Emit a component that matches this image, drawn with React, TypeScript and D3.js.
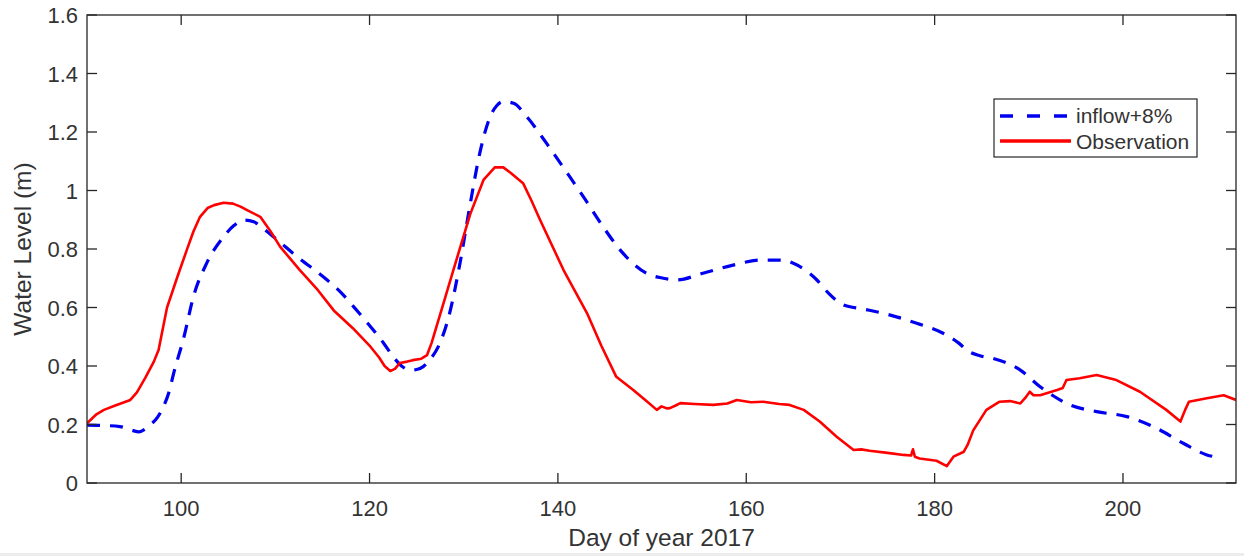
import React from "react";
import * as d3 from "d3";

// Observation (red, solid)
const obsDay = [90, 91, 91.8, 93, 94.6, 95.3, 96.2, 97.1, 97.6, 98.0, 98.5, 99.6, 100.6, 101.3, 102.0, 102.8, 103.5, 104.5, 105.5, 106.3, 107.0, 108.4, 109.5, 110.5, 112.6, 114.5, 116.2, 118.2, 120.1, 121.0, 121.6, 122.2, 122.7, 123.2, 124.0, 124.6, 125.5, 126.1, 126.6, 127.1, 128.0, 128.9, 130.7, 132.1, 133.3, 134.2, 135.0, 136.3, 137.2, 138.1, 140.6, 143.1, 144.6, 146.2, 148.0, 149.4, 150.5, 151.0, 151.6, 151.9, 152.5, 153.0, 154.5, 156.5, 158.0, 159.0, 160.5, 161.8, 163.5, 164.6, 166.1, 167.8, 169.6, 171.4, 172.2, 173.1, 175.0, 176.7, 177.5, 177.7, 177.9, 178.4, 180.2, 181.3, 182.0, 183.1, 183.5, 184.1, 185.5, 186.9, 188.0, 189.1, 189.6, 190.1, 190.5, 191.2, 193.0, 193.6, 194.0, 195.4, 197.2, 199.3, 201.8, 204.6, 206.1, 206.6, 207.0, 208.9, 210.7, 212];
const obsLevel = [0.204, 0.235, 0.25, 0.265, 0.284, 0.31, 0.36, 0.415, 0.455, 0.52, 0.6, 0.705, 0.797, 0.86, 0.91, 0.94, 0.95, 0.958, 0.955, 0.945, 0.933, 0.91, 0.86, 0.808, 0.728, 0.66, 0.59, 0.53, 0.466, 0.43, 0.4, 0.383, 0.39, 0.41, 0.415, 0.42, 0.425, 0.437, 0.48, 0.534, 0.63, 0.728, 0.92, 1.036, 1.079, 1.079, 1.06, 1.025, 0.965, 0.9, 0.728, 0.58, 0.47, 0.363, 0.318, 0.28, 0.25, 0.262, 0.255, 0.256, 0.265, 0.273, 0.27, 0.267, 0.272, 0.284, 0.276, 0.278, 0.27, 0.267, 0.25, 0.21, 0.158, 0.113, 0.115, 0.11, 0.103, 0.096, 0.094, 0.115, 0.09, 0.084, 0.076, 0.058, 0.09, 0.107, 0.13, 0.18, 0.25, 0.278, 0.28, 0.272, 0.29, 0.312, 0.3, 0.3, 0.318, 0.325, 0.352, 0.358, 0.369, 0.352, 0.312, 0.25, 0.21, 0.25, 0.278, 0.29, 0.3, 0.284];

// inflow+8% (blue, dashed)
const simDay = [90, 91.5, 93.5, 94.8, 95.5, 96.2, 96.7, 97.5, 98.1, 98.7, 99.2, 100.3, 101.3, 102.7, 104.5, 105.6, 106.6, 107.7, 108.7, 109.8, 112.3, 115.5, 117.0, 118.3, 120.4, 121.5, 122.5, 123.4, 124.3, 125.0, 125.7, 126.5, 127.3, 128.5, 129.6, 130.7, 131.7, 132.8, 133.5, 134.2, 135.3, 136.7, 138.8, 141.0, 142.7, 144.8, 146.6, 148.0, 149.4, 151.2, 152.6, 155.4, 158.6, 161.5, 163.9, 165.0, 167.5, 168.7, 170.3, 172.4, 175.3, 178.1, 180.9, 182.5, 183.6, 184.8, 186.2, 189.1, 191.2, 192.5, 194.0, 197.2, 200.4, 203.2, 206.4, 208.9, 210.0];
const simLevel = [0.198, 0.197, 0.193, 0.18, 0.175, 0.185, 0.198, 0.225, 0.26, 0.31, 0.375, 0.5, 0.637, 0.751, 0.842, 0.88, 0.899, 0.893, 0.87, 0.842, 0.774, 0.694, 0.65, 0.603, 0.523, 0.478, 0.432, 0.4, 0.386, 0.388, 0.398, 0.425, 0.466, 0.58, 0.751, 0.956, 1.127, 1.252, 1.29, 1.304, 1.298, 1.252, 1.161, 1.059, 0.979, 0.876, 0.797, 0.75, 0.717, 0.7, 0.694, 0.717, 0.745, 0.762, 0.762, 0.751, 0.694, 0.65, 0.609, 0.595, 0.574, 0.546, 0.512, 0.48, 0.45, 0.435, 0.426, 0.386, 0.329, 0.3, 0.272, 0.244, 0.227, 0.193, 0.136, 0.096, 0.088];

const xTicks = [100, 120, 140, 160, 180, 200];
const yTicks = [0, 0.2, 0.4, 0.6, 0.8, 1, 1.2, 1.4, 1.6];
const xTickLabels = ["100", "120", "140", "160", "180", "200"];
const yTickLabels = ["0", "0.2", "0.4", "0.6", "0.8", "1", "1.2", "1.4", "1.6"];
const seriesNames = ["inflow+8%", "Observation"];

const W = 1244;
const H = 556;
const M = { left: 87, right: 1236, top: 15, bottom: 483 };
const FONT = "'Liberation Sans', Arial, Helvetica, sans-serif";
const TXT = "#333333";
const AX = "#262626";

export default function App() {
  const x = d3.scaleLinear().domain([90, 212]).range([M.left, M.right]);
  const y = d3.scaleLinear().domain([0, 1.6]).range([M.bottom, M.top]);

  const obs = obsDay.map((d, i) => [d, obsLevel[i]] as [number, number]);
  const sim = simDay.map((d, i) => [d, simLevel[i]] as [number, number]);

  const obsLine = d3
    .line<[number, number]>()
    .x((d) => x(d[0]))
    .y((d) => y(d[1]))
    .curve(d3.curveLinear);
  const simLine = d3
    .line<[number, number]>()
    .x((d) => x(d[0]))
    .y((d) => y(d[1]))
    .curve(d3.curveMonotoneX);

  const tickLen = 10;
  const lg = { x: 994, y: 99, w: 203, h: 58 };

  return (
    <svg
      width={W}
      height={H}
      style={{ position: "absolute", left: 0, top: 0, background: "#fff" }}
      fontFamily={FONT}
    >
      <rect x={0} y={0} width={W} height={H} fill="#fff" />
      <defs>
        <clipPath id="plotclip">
          <rect x={M.left} y={M.top} width={M.right - M.left} height={M.bottom - M.top} />
        </clipPath>
      </defs>

      {/* series */}
      <g clipPath="url(#plotclip)">
        <path
          d={simLine(sim) || ""}
          fill="none"
          stroke="#0000f0"
          strokeWidth={3.2}
          strokeDasharray="13,10"
        />
        <path
          d={obsLine(obs) || ""}
          fill="none"
          stroke="#ff0000"
          strokeWidth={2.6}
          strokeLinejoin="round"
        />
      </g>

      {/* axes box */}
      <rect
        x={M.left}
        y={M.top}
        width={M.right - M.left}
        height={M.bottom - M.top}
        fill="none"
        stroke={AX}
        strokeWidth={1.3}
      />

      {/* x ticks */}
      {xTicks.map((t, i) => (
        <g key={"xt" + t}>
          <line x1={x(t)} x2={x(t)} y1={M.bottom} y2={M.bottom - tickLen} stroke={AX} strokeWidth={1.3} />
          <line x1={x(t)} x2={x(t)} y1={M.top} y2={M.top + tickLen} stroke={AX} strokeWidth={1.3} />
          <text x={x(t)} y={516} textAnchor="middle" fontSize={22} fill={TXT}>
            {xTickLabels[i]}
          </text>
        </g>
      ))}

      {/* y ticks */}
      {yTicks.map((t, i) => (
        <g key={"yt" + t}>
          <line x1={M.left} x2={M.left + tickLen} y1={y(t)} y2={y(t)} stroke={AX} strokeWidth={1.3} />
          <line x1={M.right} x2={M.right - tickLen} y1={y(t)} y2={y(t)} stroke={AX} strokeWidth={1.3} />
          <text x={78} y={y(t) + 8} textAnchor="end" fontSize={22} fill={TXT}>
            {yTickLabels[i]}
          </text>
        </g>
      ))}

      {/* axis labels */}
      <text x={(M.left + M.right) / 2} y={546} textAnchor="middle" fontSize={24.5} fill={TXT}>
        Day of year 2017
      </text>
      <text
        transform={`translate(31, ${(M.top + M.bottom) / 2}) rotate(-90)`}
        textAnchor="middle"
        fontSize={24.5}
        fill={TXT}
      >
        Water Level (m)
      </text>

      {/* legend */}
      <g>
        <rect x={lg.x} y={lg.y} width={lg.w} height={lg.h} fill="#fff" stroke={AX} strokeWidth={1.2} />
        <line x1={lg.x + 6} x2={lg.x + 77} y1={lg.y + 17} y2={lg.y + 17} stroke="#0000f0" strokeWidth={3.6} strokeDasharray="13,14" />
        <line x1={lg.x + 6} x2={lg.x + 77} y1={lg.y + 42} y2={lg.y + 42} stroke="#ff0000" strokeWidth={3.6} />
        <text x={lg.x + 82} y={lg.y + 24} fontSize={21} fill={TXT}>
          {seriesNames[0]}
        </text>
        <text x={lg.x + 82} y={lg.y + 50} fontSize={21} fill={TXT}>
          {seriesNames[1]}
        </text>
      </g>

      <rect x={0} y={553} width={W} height={3} fill="#ececec" />
    </svg>
  );
}
